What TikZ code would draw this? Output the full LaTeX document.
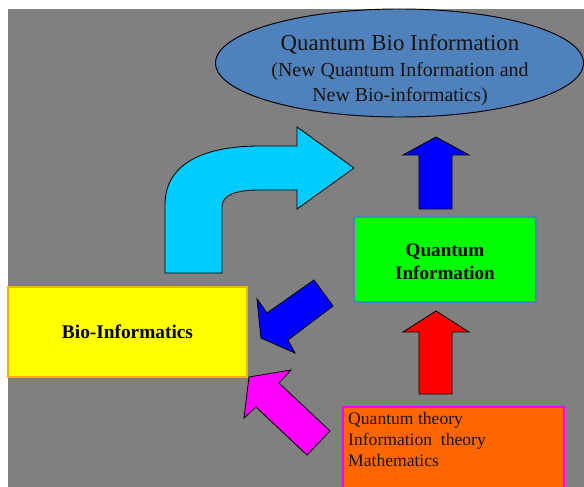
\documentclass[tikz,border=0pt]{standalone}
\usepackage{fontspec}
\setmainfont{Liberation Serif}
\usepackage{tikz}
\usetikzlibrary{shapes.geometric}
\definecolor{qbGray}   {RGB}{128, 128, 128}
\definecolor{qbSteel}  {RGB}{79,  129, 189}
\definecolor{qbCyan}   {RGB}{0,   204, 255}
\definecolor{qbBlue}   {RGB}{0,   0,   255}
\definecolor{qbGreen}  {RGB}{0,   255, 0}
\definecolor{qbYellow} {RGB}{255, 255, 0}
\definecolor{qbGold}   {RGB}{240, 180, 0}
\definecolor{qbRed}    {RGB}{255, 0,   0}
\definecolor{qbPink}   {RGB}{255, 0,   255}
\definecolor{qbOrange} {RGB}{255, 102, 0}
\definecolor{qbInk}    {RGB}{25,  20,  15}

\begin{document}
\begin{tikzpicture}[x=0.03cm,y=-0.03cm,
    blockarrow/.style={draw=black,line width=0.7pt,line join=miter},
    box/.style={draw,line width=1.5pt,inner sep=0pt}]
        \useasboundingbox (0,0) rectangle (584,487);
        \clip (0,0) rectangle (584,487);
        \fill[white] (0,0) rectangle (584,487);
        \fill[qbGray] (8,9) rectangle (584,487);

        % Ellipse on top
        \node[ellipse,draw=black,line width=0.8pt,fill=qbSteel,inner sep=0pt,
          minimum width=11.04cm,minimum height=3.24cm] (qbi) at (399.5,63) {};
        \node[align=center,qbInk,inner sep=0pt,
          font=\fontsize{17}{21.8}\selectfont] (qbitext) at (400,70.5)
          {{\fontsize{19.5}{22}\selectfont Quantum Bio Information}\\
           (New Quantum Information and\\
           New Bio-informatics)};

        % Boxes
        \node[box,draw=qbSteel,fill=qbGreen,minimum width=5.46cm,minimum height=2.55cm,
          align=center,font=\fontsize{16.3}{19.5}\selectfont\bfseries] (qinfo) at (445,259.5)
          {\rule{0pt}{14.5pt}Quantum\\Information};
        \node[box,draw=qbGold,fill=qbYellow,minimum width=7.17cm,minimum height=2.7cm,
          font=\fontsize{16.5}{19.5}\selectfont\bfseries] (bioinf) at (127.5,332)
          {Bio-Informatics};
        \node[box,draw=qbPink,fill=qbOrange,minimum width=6.63cm,minimum height=3cm,
          anchor=north] (theory) at (453.5,406) {};
        \node[anchor=north west,align=left,inner sep=0pt,qbInk,
          font=\fontsize{15}{17.8}\selectfont] (theorytext) at (348,412)
          {Quantum theory\\Information\ \ theory\\Mathematics};

        % Bent arrow
        \draw[blockarrow,fill=qbCyan] (165,273) -- (165,205)
          .. controls (165,160) and (210,146) .. (260,146) -- (297,146)
          -- (297,127) -- (354,168) -- (297,209) -- (297,190) -- (260,190)
          .. controls (235,190) and (222,195) .. (222,207) -- (222,273) -- cycle;

        % Up arrows
        \foreach \col/\tip/\base/\bot in {qbBlue/137/155/209, qbRed/311/332/394}{
          \draw[blockarrow,fill=\col] (419,\bot) -- (419,\base) -- (403,\base)
            -- (436,\tip) -- (469,\base) -- (452,\base) -- (452,\bot) -- cycle;
        }

        % Diagonal arrows
        \draw[blockarrow,fill=qbBlue] (314,280) -- (333,306) -- (288,340)
          -- (295,353) -- (261,338) -- (257,299) -- (267,313) -- cycle;
        \draw[blockarrow,fill=qbPink] (249,377) -- (291,370) -- (279,383)
          -- (330,431) -- (307,455) -- (256,407) -- (244,418) -- cycle;
      \end{tikzpicture}
\end{document}
